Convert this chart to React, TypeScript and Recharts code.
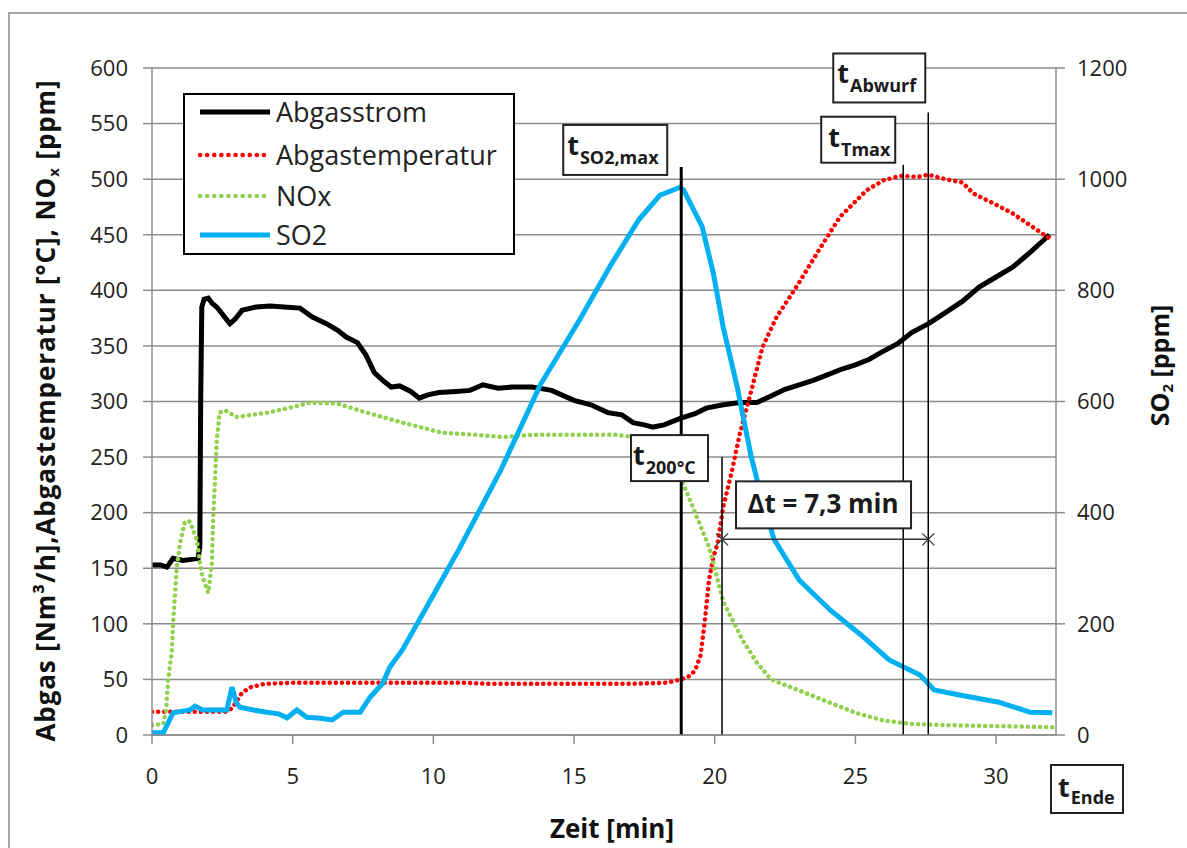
import React from 'react';
import { LineChart, Line, XAxis, YAxis, CartesianGrid, ReferenceLine, ReferenceDot, Legend } from 'recharts';

const FONT = '"Open Sans", sans-serif';

// Abgasstrom [Nm3/h]
const stromT = [0, 0.3, 0.53, 0.75, 1.1, 1.4, 1.64, 1.7, 1.73, 1.77, 1.85, 2.0, 2.15, 2.3, 2.55, 2.77, 2.95, 3.2, 3.7, 4.2, 4.7, 5.26, 5.7, 6.2, 6.6, 6.9, 7.3, 7.6, 7.9, 8.2, 8.5, 8.8, 9.2, 9.5, 9.8, 10.2, 10.8, 11.3, 11.76, 12.3, 12.8, 13.5, 14.2, 15.0, 15.6, 16.2, 16.7, 17.1, 17.5, 17.8, 18.2, 18.8, 19.3, 19.7, 20.3, 20.9, 21.5, 22.0, 22.5, 23.0, 23.5, 24.0, 24.5, 25.0, 25.5, 25.9, 26.5, 27.0, 27.6, 28.2, 28.8, 29.4, 30.0, 30.6, 31.2, 31.9];
const stromV = [153, 153, 151, 159, 157, 158, 159, 169, 300, 385, 392, 393, 388, 385, 377, 370, 374, 382, 385, 386, 385, 384, 376, 370, 364, 358, 353, 342, 326, 319, 313, 314, 309, 303, 306, 308, 309, 310, 315, 312, 313, 313, 310, 301, 297, 290, 288, 281, 279, 277, 279, 285, 289, 294, 297, 299, 299, 305, 311, 315, 319, 324, 329, 333, 338, 344, 352, 362, 370, 380, 390, 403, 412, 421, 434, 450];

// Abgastemperatur [°C]
const tempT = [0, 2.6, 2.85, 3.0, 3.2, 3.5, 4.0, 5.0, 8.0, 11.0, 12.0, 15.0, 17.0, 18.3, 18.8, 19.1, 19.3, 19.5, 19.65, 19.8, 19.95, 20.1, 20.3, 20.6, 20.9, 21.25, 21.7, 22.2, 22.9, 23.7, 24.45, 25.4, 26.0, 26.6, 27.2, 27.6, 28.2, 28.8, 29.2, 30.0, 30.6, 31.3, 32.0];
const tempV = [21, 21, 24, 30, 38, 43, 46, 47, 47, 47, 46, 46, 46, 47, 50, 53, 58, 72, 103, 140, 160, 172, 205, 236, 272, 305, 349, 376, 403, 436, 466, 490, 499, 503, 502, 504, 500, 497, 487, 477, 469, 457, 445];

// NOx [ppm]
const noxT = [0, 0.4, 0.5, 0.57, 0.7, 0.75, 0.82, 0.88, 1.0, 1.17, 1.35, 1.6, 1.7, 1.8, 2.0, 2.13, 2.17, 2.24, 2.3, 2.4, 2.6, 3.0, 4.1, 5.0, 5.6, 6.6, 7.5, 8.9, 10.3, 11.5, 12.5, 13.5, 15.0, 16.5, 17.5, 18.0, 18.5, 18.9, 19.3, 19.8, 20.0, 20.3, 20.6, 21.0, 21.5, 22.0, 23.0, 24.0, 25.0, 26.0, 27.0, 28.0, 30.0, 32.0];
const noxV = [9, 10, 22, 49, 74, 100, 128, 151, 173, 192, 192, 175, 155, 142, 128, 155, 193, 229, 264, 290, 292, 286, 290, 295, 299, 298, 291, 281, 272, 270, 268, 270, 270, 270, 267, 262, 250, 225, 200, 169, 150, 120, 105, 85, 65, 50, 40, 30, 20, 13, 10, 9, 8, 7];

// SO2 [ppm]
const so2T = [0, 0.4, 0.75, 1.0, 1.35, 1.53, 1.8, 2.17, 2.66, 2.84, 3.0, 3.13, 3.6, 4.08, 4.5, 4.8, 5.15, 5.5, 6.0, 6.4, 6.8, 7.4, 7.75, 8.2, 8.45, 8.9, 9.9, 10.9, 12.4, 13.8, 15.2, 16.3, 17.3, 18.05, 18.5, 18.75, 18.9, 19.3, 19.55, 19.95, 20.3, 20.8, 21.3, 21.6, 22.1, 23.0, 24.1, 25.2, 26.2, 27.3, 27.8, 28.7, 30.1, 31.2, 32.0];
const so2V = [4, 4, 40, 42, 45, 52, 45, 45, 45, 86, 58, 50, 45, 41, 38, 31, 45, 32, 30, 27, 41, 41, 68, 93, 122, 153, 243, 333, 477, 630, 747, 845, 927, 971, 980, 985, 980, 940, 915, 831, 734, 626, 500, 441, 353, 279, 225, 180, 135, 108, 81, 72, 59, 41, 40];

const xTicks = [0, 5, 10, 15, 20, 25, 30];
const leftTicks = [0, 50, 100, 150, 200, 250, 300, 350, 400, 450, 500, 550, 600];
const rightTicks = [0, 200, 400, 600, 800, 1000, 1200];
const seriesNames = ['Abgasstrom', 'Abgastemperatur', 'NOx', 'SO2'];

// annotation times [min] and levels
const tSO2max = 18.81;
const t200 = 20.26;
const tTmax = 26.7;
const tAbwurf = 27.59;
const tEnde = 32.13;
const topSO2max = 511;
const topTmax = 513;
const topAbwurf = 560;
const top200 = 250;
const deltaLevel = 176;
const deltaText = 'Δt = 7,3 min';

const zip = (t: number[], v: number[]) => t.map((x, i) => ({ t: x, v: v[i] }));
const stromData = zip(stromT, stromV);
const tempData = zip(tempT, tempV);
const noxData = zip(noxT, noxV);
const so2Data = zip(so2T, so2V);

const TBox = (props: any) => {
  const { viewBox, ox, oy, w, h, sub, tx = 4 } = props;
  const bx = viewBox.x + ox;
  const by = viewBox.y + oy;
  return (
    <g>
      <rect x={bx} y={by} width={w} height={h} fill="#fff" stroke="#222" strokeWidth={2} />
      <text x={bx + tx} y={by + 30} fontFamily={FONT} fontWeight="bold" fill="#1a1a1a">
        <tspan fontSize={27}>t</tspan>
        <tspan fontSize={18} dy={9} dx={1}>{sub}</tspan>
      </text>
    </g>
  );
};

const DeltaBox = (props: any) => {
  const { viewBox } = props;
  const bx = viewBox.x + 14;
  const by = viewBox.y - 58;
  return (
    <g>
      <rect x={bx} y={by} width={175} height={47} fill="#fff" stroke="#222" strokeWidth={2} />
      <text x={bx + 87} y={by + 32} textAnchor="middle" fontFamily={FONT} fontWeight="bold" fontSize={26} fill="#1a1a1a">{deltaText}</text>
    </g>
  );
};

const Cross = (props: any) => {
  const { cx, cy } = props;
  return (
    <g stroke="#333" strokeWidth={1.3}>
      <line x1={cx - 6} y1={cy - 6} x2={cx + 6} y2={cy + 6} />
      <line x1={cx - 6} y1={cy + 6} x2={cx + 6} y2={cy - 6} />
    </g>
  );
};

const EndeBox = (props: any) => {
  const { cx, cy } = props;
  const bx = cx - 5;
  const by = cy + 30;
  return (
    <g>
      <rect x={bx} y={by} width={72} height={48} fill="#fff" stroke="#222" strokeWidth={2} />
      <text x={bx + 7} y={by + 32} fontFamily={FONT} fontWeight="bold" fill="#1a1a1a">
        <tspan fontSize={27}>t</tspan>
        <tspan fontSize={18} dy={7} dx={1}>Ende</tspan>
      </text>
    </g>
  );
};

const LeftTitle = (props: any) => {
  const { viewBox } = props;
  const cx = 55;
  const cy = viewBox.y + viewBox.height / 2 + 9;
  return (
    <text transform={`translate(${cx},${cy}) rotate(-90)`} textAnchor="middle" fontFamily={FONT} fontWeight="bold" fontSize={26} letterSpacing={0.9} fill="#111">
      <tspan>Abgas [Nm³/h],Abgastemperatur [°C], NO</tspan>
      <tspan fontSize={15} dy={4}>x</tspan>
      <tspan dy={-4}> [ppm]</tspan>
    </text>
  );
};

const RightTitle = (props: any) => {
  const { viewBox } = props;
  const cx = 1169;
  const cy = viewBox.y + viewBox.height / 2 - 36;
  return (
    <text transform={`translate(${cx},${cy}) rotate(-90)`} textAnchor="middle" fontFamily={FONT} fontWeight="bold" fontSize={25} fill="#111">
      <tspan>SO</tspan>
      <tspan fontSize={15} dy={4}>2</tspan>
      <tspan dy={-4}> [ppm]</tspan>
    </text>
  );
};

const BottomTitle = (props: any) => {
  const { viewBox } = props;
  const cx = viewBox.x + viewBox.width / 2 + 8;
  return (
    <text x={cx} y={838} textAnchor="middle" fontFamily={FONT} fontWeight="bold" fontSize={26} fill="#111">Zeit [min]</text>
  );
};

const legendStyles = [
  { stroke: '#000', dash: undefined, width: 5 },
  { stroke: '#ff0000', dash: '0.1 7', width: 4.5 },
  { stroke: '#92d050', dash: '0.1 7', width: 4.5 },
  { stroke: '#00b0f0', dash: undefined, width: 5 },
];
const legendRows = [17, 60, 101, 140];

const LegendBox = () => (
  <div style={{ position: 'relative', width: 332, height: 162, border: '2px solid #000', boxSizing: 'border-box', background: '#fff', fontFamily: FONT }}>
    {seriesNames.map((name, i) => (
      <div key={name} style={{ position: 'absolute', left: 0, top: legendRows[i] - 17, height: 34, display: 'flex', alignItems: 'center' }}>
        <svg width={91} height={34} style={{ display: 'block' }}>
          <line x1={15} x2={85} y1={17} y2={17} stroke={legendStyles[i].stroke} strokeWidth={legendStyles[i].width} strokeDasharray={legendStyles[i].dash} strokeLinecap={legendStyles[i].dash ? 'round' : 'butt'} />
        </svg>
        <span style={{ fontSize: 27, lineHeight: '34px', color: '#222', whiteSpace: 'nowrap' }}>{name}</span>
      </div>
    ))}
  </div>
);

const tickStyle = { fontFamily: FONT, fontSize: 22, fill: '#222' };
const axisGray = '#8c8c8c';

export default function App() {
  return (
    <div style={{ position: 'absolute', left: 0, top: 0, width: 1187, height: 848, overflow: 'hidden', background: '#fff' }}>
      <div style={{ position: 'absolute', left: 8, top: 12, width: 1220, height: 900, border: '2px solid #a6a6a6', boxSizing: 'border-box' }} />
      <div style={{ position: 'absolute', left: 0, top: 0 }}>
        <LineChart width={1187} height={848} margin={{ top: 68, right: 0, bottom: 0, left: 0 }} style={{ fontFamily: FONT }}>
          <CartesianGrid yAxisId="left" vertical={false} stroke={axisGray} strokeWidth={1.5} />
          <XAxis
            type="number"
            dataKey="t"
            domain={[0, tEnde]}
            ticks={xTicks}
            allowDataOverflow
            height={113}
            tickSize={9}
            tickMargin={24}
            tick={tickStyle}
            axisLine={{ stroke: axisGray, strokeWidth: 1.5 }}
            tickLine={{ stroke: axisGray, strokeWidth: 1.5 }}
            label={<BottomTitle />}
          />
          <YAxis
            yAxisId="left"
            domain={[0, 600]}
            ticks={leftTicks}
            width={152}
            tickSize={9}
            tickMargin={15}
            tick={tickStyle}
            axisLine={{ stroke: axisGray, strokeWidth: 1.5 }}
            tickLine={{ stroke: axisGray, strokeWidth: 1.5 }}
            label={<LeftTitle />}
          />
          <YAxis
            yAxisId="right"
            orientation="right"
            domain={[0, 1200]}
            ticks={rightTicks}
            width={131}
            tickSize={9}
            tickMargin={12}
            tick={tickStyle}
            axisLine={{ stroke: axisGray, strokeWidth: 1.5 }}
            tickLine={{ stroke: axisGray, strokeWidth: 1.5 }}
            label={<RightTitle />}
          />
          <Line data={stromData} dataKey="v" name={seriesNames[0]} yAxisId="left" type="linear" stroke="#000" strokeWidth={5} dot={false} isAnimationActive={false} />
          <Line data={tempData} dataKey="v" name={seriesNames[1]} yAxisId="left" type="linear" stroke="#ff0000" strokeWidth={4.5} strokeDasharray="0.1 6" strokeLinecap="round" dot={false} isAnimationActive={false} />
          <Line data={noxData} dataKey="v" name={seriesNames[2]} yAxisId="left" type="linear" stroke="#92d050" strokeWidth={4.5} strokeDasharray="0.1 6" strokeLinecap="round" dot={false} isAnimationActive={false} />
          <Line data={so2Data} dataKey="v" name={seriesNames[3]} yAxisId="right" type="linear" stroke="#00b0f0" strokeWidth={5} dot={false} isAnimationActive={false} />

          <ReferenceLine yAxisId="left" segment={[{ x: tSO2max, y: 0 }, { x: tSO2max, y: topSO2max }]} stroke="#000" strokeWidth={3}
            label={<TBox ox={-118} oy={-42} w={104} h={50} sub="SO2,max" tx={4} />} />
          <ReferenceLine yAxisId="left" segment={[{ x: t200, y: 0 }, { x: t200, y: top200 }]} stroke="#000" strokeWidth={1.5}
            label={<TBox ox={-91} oy={-22} w={77} h={46} sub="200°C" tx={2} />} />
          <ReferenceLine yAxisId="left" segment={[{ x: tTmax, y: 0 }, { x: tTmax, y: topTmax }]} stroke="#000" strokeWidth={1.5}
            label={<TBox ox={-82} oy={-48} w={74} h={46} sub="Tmax" tx={7} />} />
          <ReferenceLine yAxisId="left" segment={[{ x: tAbwurf, y: 0 }, { x: tAbwurf, y: topAbwurf }]} stroke="#000" strokeWidth={1.5}
            label={<TBox ox={-95} oy={-59} w={92} h={49} sub="Abwurf" tx={4} />} />
          <ReferenceLine yAxisId="left" segment={[{ x: t200, y: deltaLevel }, { x: tAbwurf, y: deltaLevel }]} stroke="#333" strokeWidth={1.5}
            label={<DeltaBox />} />
          <ReferenceDot yAxisId="left" x={t200} y={deltaLevel} r={6} shape={(p: any) => <Cross {...p} />} ifOverflow="visible" />
          <ReferenceDot yAxisId="left" x={tAbwurf} y={deltaLevel} r={6} shape={(p: any) => <Cross {...p} />} ifOverflow="visible" />
          <ReferenceDot yAxisId="left" x={tEnde} y={0} r={1} shape={(p: any) => <EndeBox {...p} />} ifOverflow="visible" />

          <Legend
            layout="horizontal"
            verticalAlign="middle"
            align="center"
            wrapperStyle={{ left: 183, top: 93, width: 332, height: 162 }}
            content={() => <LegendBox />}
          />
        </LineChart>
      </div>
    </div>
  );
}
